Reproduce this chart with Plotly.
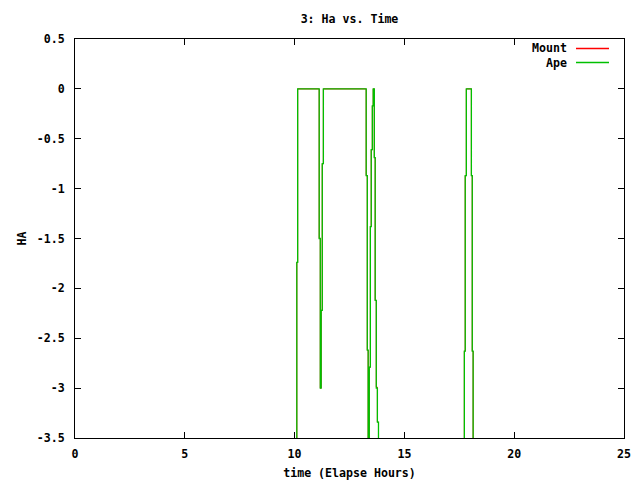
import plotly.graph_objects as go

# Elapsed time (hours) and HA values
time_h = [10.05, 10.10, 10.14, 11.08, 11.12, 11.17, 11.21, 11.26, 11.31,
          13.22, 13.26, 13.31, 13.35, 13.36, 13.40, 13.45, 13.49, 13.54,
          13.58, 13.63, 13.67, 13.72, 13.77, 13.82,
          17.69, 17.73, 17.77, 17.82, 18.00, 18.05, 18.09, 18.13]
ape_ha = [-4.2, -1.74, 0.0, 0.0, -1.50, -3.00, -2.22, -0.75, 0.0,
          0.0, -0.87, -2.62, -4.2, -4.2, -2.79, -1.38, -0.61, -0.17,
          0.0, -0.69, -2.12, -3.00, -3.34, -4.2,
          -4.2, -2.63, -0.87, 0.0, 0.0, -0.87, -2.63, -4.2]
mount_ha = [-4.2, -1.74, 0.0, 0.0, -1.50, -3.00, -2.22, -0.75, 0.0,
            0.0, -0.87, -2.62, -4.2, -4.2, -2.79, -1.38, -0.61, -0.17,
            0.0, -0.69, -2.12, -2.99, -3.34, -4.2,
            -4.2, -2.63, -0.87, 0.0, 0.0, -0.87, -2.63, -4.2]

x_ticks = [0, 5, 10, 15, 20, 25]
y_ticks = [0.5, 0, -0.5, -1, -1.5, -2, -2.5, -3, -3.5]
y_tick_labels = ["0.5", "0", "-0.5", "-1", "-1.5", "-2", "-2.5", "-3", "-3.5"]
legend_labels = ["Mount", "Ape"]

RED = "#ff0000"
GREEN = "#00c000"
FONT = "DejaVu Sans Mono"
FS = 11.6

fig = go.Figure()
fig.add_trace(go.Scatter(x=time_h, y=mount_ha, mode="lines", name=legend_labels[0],
                         line=dict(color=RED, width=1, shape="hv"), showlegend=False))
fig.add_trace(go.Scatter(x=time_h, y=ape_ha, mode="lines", name=legend_labels[1],
                         line=dict(color=GREEN, width=1.3, shape="hv"), showlegend=False))

axis_common = dict(showgrid=False, zeroline=False, showline=True, linecolor="black",
                   linewidth=1, mirror="allticks", ticks="inside", ticklen=6,
                   tickcolor="black", automargin=False,
                   tickfont=dict(family=FONT, size=FS, color="black", weight="bold"))

fig.update_layout(
    width=640, height=480,
    margin=dict(l=75, r=16, t=39, b=42, autoexpand=False),
    paper_bgcolor="white", plot_bgcolor="white",
    font=dict(family=FONT, size=FS, color="black", weight="bold"),
    title=dict(text="3: Ha vs. Time", x=0.5, xref="paper", xanchor="center",
               y=1 - 19 / 480, yanchor="middle",
               font=dict(family=FONT, size=FS, color="black", weight="bold")),
    xaxis=dict(range=[0, 25], tickvals=x_ticks, ticktext=[str(v) for v in x_ticks],
               ticklabelstandoff=5,
               title=dict(text="time (Elapse Hours)", standoff=10,
                          font=dict(family=FONT, size=FS, weight="bold")), **axis_common),
    yaxis=dict(range=[-3.5, 0.5], tickvals=y_ticks, ticktext=y_tick_labels,
               ticklabelstandoff=7,
               title=dict(text="HA", standoff=7, font=dict(family=FONT, size=FS, weight="bold")),
               **axis_common),
    showlegend=False,
)

# Manual gnuplot-style legend (text right-aligned, sample line to the right)
center_px = 55
fig.add_annotation(xref="paper", yref="paper", x=(569 - 75) / 549,
                   y=1 - (center_px - 39) / 399,
                   text="<br>".join(legend_labels), align="right", showarrow=False,
                   xanchor="right", yanchor="middle",
                   font=dict(family=FONT, size=FS, color="black", weight="bold"))
for ypix, color in [(48.5, RED), (62.5, GREEN)]:
    yp = 1 - (ypix - 39) / 399
    fig.add_shape(type="line", xref="paper", yref="paper",
                  x0=(576 - 75) / 549, x1=(609 - 75) / 549, y0=yp, y1=yp,
                  line=dict(color=color, width=1.3))

fig.write_html("out.html", config={"displayModeBar": False},
               post_script="document.body.style.margin='0';document.body.style.overflow='hidden';")
